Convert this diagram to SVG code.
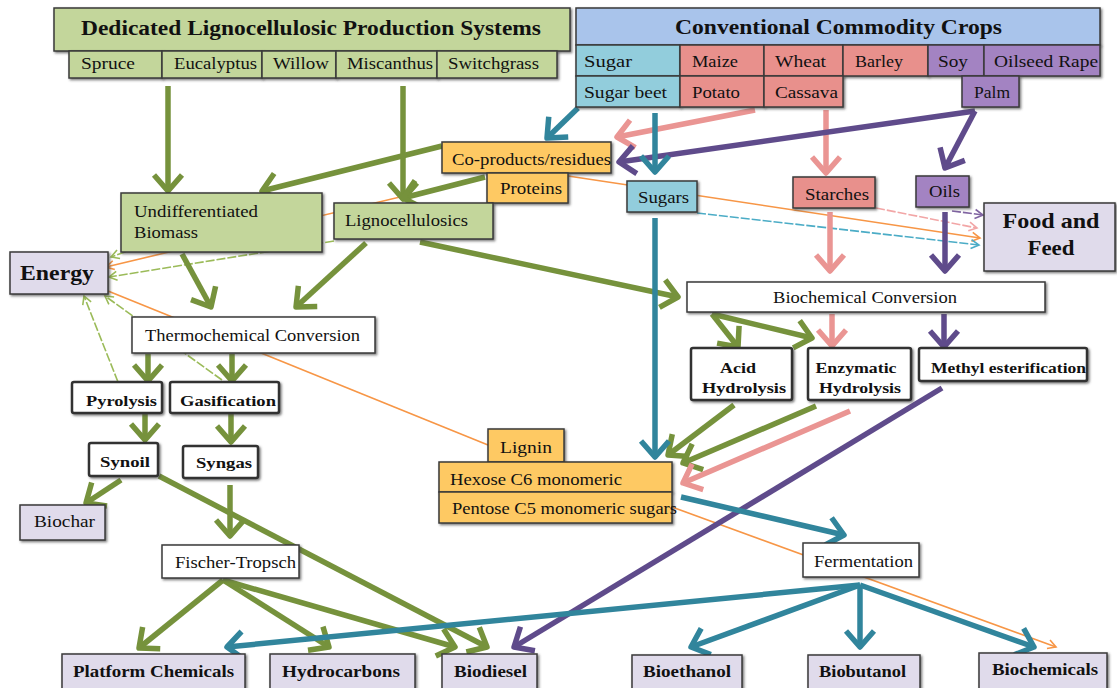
<svg xmlns="http://www.w3.org/2000/svg" width="1117" height="688" viewBox="0 0 1117 688">
<style>
text{font-family:"Liberation Serif","DejaVu Serif",serif;fill:#111}
.r{font-size:16px}
.b{font-weight:bold}
rect.bx,rect.pb{filter:url(#sh)}
.bx{stroke:#3a3a3a;stroke-width:1.5}
.pb{fill:#fff;stroke:#333;stroke-width:2.5}
.wh{fill:#fff}
.gr{fill:#c3d69b}
.bl{fill:#a9c4eb}
.aq{fill:#92cddc}
.sa{fill:#e8908c}
.pu{fill:#a383c2}
.li{fill:#e0dbeb}
.ye{fill:#fec963}
.k{fill:none;stroke-width:5.5;stroke-linecap:butt}
.kg{stroke:#76923c;marker-end:url(#mG)}
.kt{stroke:#31859c;marker-end:url(#mT)}
.kp{stroke:#ea9593;marker-end:url(#mP)}
.kv{stroke:#5f4b8b;marker-end:url(#mV)}
.n{fill:none;stroke-width:1.6}
.no{stroke:#f79646}
.nl{stroke:#9bbb59;stroke-dasharray:9 2}
.nt{stroke:#4bacc6;stroke-dasharray:9 2}
.np{stroke:#f2a6a6;stroke-dasharray:9 2}
.nv{stroke:#8064a2;stroke-dasharray:9 2}
</style>
<defs>
<filter id="sh" x="-10%" y="-10%" width="130%" height="140%"><feDropShadow dx="1.5" dy="1.5" stdDeviation="0.8" flood-color="#444" flood-opacity="0.7"/></filter>
<marker id="mG" viewBox="0 0 34 34" markerWidth="34" markerHeight="34" markerUnits="userSpaceOnUse" refX="25" refY="17" orient="auto"><path d="M9,3 L25,17 L9,31" fill="none" stroke="#76923c" stroke-width="5.5" stroke-linejoin="round"/></marker>
<marker id="mT" viewBox="0 0 34 34" markerWidth="34" markerHeight="34" markerUnits="userSpaceOnUse" refX="25" refY="17" orient="auto"><path d="M9,3 L25,17 L9,31" fill="none" stroke="#31859c" stroke-width="5.5" stroke-linejoin="round"/></marker>
<marker id="mP" viewBox="0 0 34 34" markerWidth="34" markerHeight="34" markerUnits="userSpaceOnUse" refX="25" refY="17" orient="auto"><path d="M9,3 L25,17 L9,31" fill="none" stroke="#ea9593" stroke-width="5.5" stroke-linejoin="round"/></marker>
<marker id="mV" viewBox="0 0 34 34" markerWidth="34" markerHeight="34" markerUnits="userSpaceOnUse" refX="25" refY="17" orient="auto"><path d="M9,3 L25,17 L9,31" fill="none" stroke="#5f4b8b" stroke-width="5.5" stroke-linejoin="round"/></marker>
<marker id="sO" viewBox="0 0 12 12" markerWidth="12" markerHeight="12" markerUnits="userSpaceOnUse" refX="10" refY="6" orient="auto"><path d="M2,1.5 L10,6 L2,10.5" fill="none" stroke="#f79646" stroke-width="1.6"/></marker>
<marker id="sL" viewBox="0 0 12 12" markerWidth="12" markerHeight="12" markerUnits="userSpaceOnUse" refX="10" refY="6" orient="auto"><path d="M2,1.5 L10,6 L2,10.5" fill="none" stroke="#9bbb59" stroke-width="1.6"/></marker>
<marker id="sT" viewBox="0 0 12 12" markerWidth="12" markerHeight="12" markerUnits="userSpaceOnUse" refX="10" refY="6" orient="auto"><path d="M2,1.5 L10,6 L2,10.5" fill="none" stroke="#4bacc6" stroke-width="1.6"/></marker>
<marker id="sP" viewBox="0 0 12 12" markerWidth="12" markerHeight="12" markerUnits="userSpaceOnUse" refX="10" refY="6" orient="auto"><path d="M2,1.5 L10,6 L2,10.5" fill="none" stroke="#f2a6a6" stroke-width="1.6"/></marker>
<marker id="sV" viewBox="0 0 12 12" markerWidth="12" markerHeight="12" markerUnits="userSpaceOnUse" refX="10" refY="6" orient="auto"><path d="M2,1.5 L10,6 L2,10.5" fill="none" stroke="#8064a2" stroke-width="1.6"/></marker>
</defs>
<rect width="1117" height="688" fill="#fff"/>

<g id="connectors">
<path class="n no" d="M484,177 L106,267" marker-end="url(#sO)"/>
<path class="n no" d="M568,176 L980,238" marker-end="url(#sO)"/>
<path class="n no" d="M488,445 L108,291"/>
<path class="n no" d="M672,507 L1056,647" marker-end="url(#sO)"/>
<path class="n nl" d="M136,248 L111,257" marker-end="url(#sL)"/>
<path class="n nl" d="M334,241 L109,277" marker-end="url(#sL)"/>
<path class="n nl" d="M118,382 L84,296" marker-end="url(#sL)"/>
<path class="n nl" d="M222,380 L105,296" marker-end="url(#sL)"/>
<path class="n np" d="M876,208 L977,228" marker-end="url(#sP)"/>
<path class="n nv" d="M952,211 L983,215" marker-end="url(#sV)"/>
<path class="n nt" d="M697,213 L979,245" marker-end="url(#sT)"/>
<path class="k kg" d="M168,86 V191"/>
<path class="k kg" d="M403,86 V199"/>
<path class="k kg" d="M442,146 L262,191"/>
<path class="k kg" d="M485,177 L403,198"/>
<path class="k kg" d="M182,254 L211,307"/>
<path class="k kg" d="M366,243 L296,307"/>
<path class="k kg" d="M420,242 L678,297"/>
<path class="k kg" d="M148,354 V381"/>
<path class="k kg" d="M232,354 V381"/>
<path class="k kg" d="M145,414 V440"/>
<path class="k kg" d="M231,414 V442"/>
<path class="k kg" d="M121,480 L86,503"/>
<path class="k kg" d="M230,485 V536"/>
<path class="k kg" d="M159,476 L487,647"/>
<path class="k kg" d="M223,580 L139,648"/>
<path class="k kg" d="M223,580 L329,647"/>
<path class="k kg" d="M223,580 L455,647"/>
<path class="k kg" d="M712,314 L738,347"/>
<path class="k kg" d="M712,314 L812,338"/>
<path class="k kg" d="M734,405 L668,455"/>
<path class="k kg" d="M816,406 L683,463"/>
<path class="k kp" d="M755,110 L617,137"/>
<path class="k kp" d="M826,110 V173"/>
<path class="k kp" d="M830,212 V271"/>
<path class="k kp" d="M832,314 V346"/>
<path class="k kp" d="M850,411 L683,483"/>
<path class="k kv" d="M975,111 L619,162"/>
<path class="k kv" d="M975,111 L945,168"/>
<path class="k kv" d="M945,212 V271"/>
<path class="k kv" d="M944,314 V347"/>
<path class="k kv" d="M942,388 L514,647"/>
<path class="k kt" d="M578,108 L547,138"/>
<path class="k kt" d="M655,113 V172"/>
<path class="k kt" d="M655,218 V457"/>
<path class="k kt" d="M681,497 L844,535"/>
<path class="k kt" d="M860,585 L691,647"/>
<path class="k kt" d="M860,585 V647"/>
<path class="k kt" d="M860,585 L1034,647"/>
<path class="k kt" d="M860,585 L227,647"/>
</g>

<g id="dedicated">
<rect class="bx gr" x="54" y="8" width="516" height="43"/>
<text class="b" x="81" y="35" font-size="21" textLength="460" lengthAdjust="spacingAndGlyphs">Dedicated Lignocellulosic Production Systems</text>
<rect class="bx gr" x="69" y="51" width="93" height="27"/>
<rect class="bx gr" x="162" y="51" width="100" height="27"/>
<rect class="bx gr" x="262" y="51" width="74" height="27"/>
<rect class="bx gr" x="336" y="51" width="101" height="27"/>
<rect class="bx gr" x="437" y="51" width="120" height="27"/>
<text class="r" x="81" y="69" textLength="54" lengthAdjust="spacingAndGlyphs">Spruce</text>
<text class="r" x="174" y="69" textLength="83" lengthAdjust="spacingAndGlyphs">Eucalyptus</text>
<text class="r" x="273" y="69" textLength="56" lengthAdjust="spacingAndGlyphs">Willow</text>
<text class="r" x="347" y="69" textLength="86" lengthAdjust="spacingAndGlyphs">Miscanthus</text>
<text class="r" x="448" y="69" textLength="91" lengthAdjust="spacingAndGlyphs">Switchgrass</text>
</g>

<g id="conventional">
<rect class="bx bl" x="576" y="8" width="524" height="37"/>
<text class="b" x="675" y="34" font-size="21" textLength="327" lengthAdjust="spacingAndGlyphs">Conventional Commodity Crops</text>
<rect class="bx aq" x="576" y="45" width="104" height="31"/>
<rect class="bx sa" x="680" y="45" width="84" height="31"/>
<rect class="bx sa" x="764" y="45" width="79" height="31"/>
<rect class="bx sa" x="843" y="45" width="85" height="31"/>
<rect class="bx pu" x="928" y="45" width="56" height="31"/>
<rect class="bx pu" x="984" y="45" width="116" height="31"/>
<rect class="bx aq" x="576" y="76" width="104" height="31"/>
<rect class="bx sa" x="680" y="76" width="84" height="31"/>
<rect class="bx sa" x="764" y="76" width="79" height="31"/>
<rect class="bx pu" x="962" y="76" width="57" height="31"/>
<text class="r" x="584" y="67" textLength="48" lengthAdjust="spacingAndGlyphs">Sugar</text>
<text class="r" x="692" y="67" textLength="46" lengthAdjust="spacingAndGlyphs">Maize</text>
<text class="r" x="775" y="67" textLength="51" lengthAdjust="spacingAndGlyphs">Wheat</text>
<text class="r" x="855" y="67" textLength="48" lengthAdjust="spacingAndGlyphs">Barley</text>
<text class="r" x="938" y="67" textLength="30" lengthAdjust="spacingAndGlyphs">Soy</text>
<text class="r" x="994" y="67" textLength="104" lengthAdjust="spacingAndGlyphs">Oilseed Rape</text>
<text class="r" x="584" y="98" textLength="83" lengthAdjust="spacingAndGlyphs">Sugar beet</text>
<text class="r" x="692" y="98" textLength="48" lengthAdjust="spacingAndGlyphs">Potato</text>
<text class="r" x="775" y="98" textLength="63" lengthAdjust="spacingAndGlyphs">Cassava</text>
<text class="r" x="974" y="98" textLength="36" lengthAdjust="spacingAndGlyphs">Palm</text>
</g>

<g id="coproducts">
<rect class="bx ye" x="442" y="142" width="169" height="31"/>
<text class="r" x="452" y="165" textLength="159" lengthAdjust="spacingAndGlyphs">Co-products/residues</text>
</g>
<g id="proteins">
<rect class="bx ye" x="487" y="173" width="81" height="30"/>
<text class="r" x="500" y="194" textLength="62" lengthAdjust="spacingAndGlyphs">Proteins</text>
</g>
<g id="sugars">
<rect class="bx aq" x="627" y="181" width="70" height="31"/>
<text class="r" x="638" y="203" textLength="51" lengthAdjust="spacingAndGlyphs">Sugars</text>
</g>
<g id="starches">
<rect class="bx sa" x="793" y="177" width="82" height="31"/>
<text class="r" x="805" y="200" textLength="64" lengthAdjust="spacingAndGlyphs">Starches</text>
</g>
<g id="oils">
<rect class="bx pu" x="916" y="176" width="53" height="31"/>
<text class="r" x="929" y="197" textLength="31" lengthAdjust="spacingAndGlyphs">Oils</text>
</g>
<g id="food">
<rect class="bx li" x="984" y="203" width="131" height="68"/>
<text class="b" x="1051" y="228" font-size="21" text-anchor="middle" textLength="97" lengthAdjust="spacingAndGlyphs">Food and</text>
<text class="b" x="1051" y="255" font-size="21" text-anchor="middle" textLength="47" lengthAdjust="spacingAndGlyphs">Feed</text>
</g>
<g id="undifferentiated">
<rect class="bx gr" x="121" y="193" width="201" height="59"/>
<text class="r" x="134" y="217" textLength="124" lengthAdjust="spacingAndGlyphs">Undifferentiated</text>
<text class="r" x="134" y="238" textLength="64" lengthAdjust="spacingAndGlyphs">Biomass</text>
</g>
<g id="lignocellulosics">
<rect class="bx gr" x="334" y="203" width="159" height="36"/>
<text class="r" x="345" y="226" textLength="123" lengthAdjust="spacingAndGlyphs">Lignocellulosics</text>
</g>
<g id="energy">
<rect class="bx li" x="10" y="252" width="98" height="42"/>
<text class="b" x="20" y="280" font-size="22" textLength="74" lengthAdjust="spacingAndGlyphs">Energy</text>
</g>
<g id="biochemical">
<rect class="bx wh" x="687" y="282" width="358" height="30"/>
<text class="r" x="773" y="303" textLength="184" lengthAdjust="spacingAndGlyphs">Biochemical Conversion</text>
</g>
<g id="thermochemical">
<rect class="bx wh" x="132" y="317" width="243" height="36"/>
<text class="r" x="145" y="341" textLength="215" lengthAdjust="spacingAndGlyphs">Thermochemical Conversion</text>
</g>
<g id="pyrolysis">
<rect class="pb" x="72" y="382" width="90" height="31" rx="2"/>
<text class="b" x="86" y="406" font-size="15" textLength="71" lengthAdjust="spacingAndGlyphs">Pyrolysis</text>
</g>
<g id="gasification">
<rect class="pb" x="170" y="382" width="109" height="31" rx="2"/>
<text class="b" x="180" y="406" font-size="15" textLength="96" lengthAdjust="spacingAndGlyphs">Gasification</text>
</g>
<g id="synoil">
<rect class="pb" x="89" y="443" width="69" height="33" rx="2"/>
<text class="b" x="100" y="467" font-size="15" textLength="50" lengthAdjust="spacingAndGlyphs">Synoil</text>
</g>
<g id="syngas">
<rect class="pb" x="183" y="446" width="75" height="32" rx="2"/>
<text class="b" x="196" y="468" font-size="15" textLength="56" lengthAdjust="spacingAndGlyphs">Syngas</text>
</g>
<g id="acid">
<rect class="pb" x="691" y="348" width="101" height="52" rx="2"/>
<text class="b" x="738" y="373" font-size="15" text-anchor="middle" textLength="36" lengthAdjust="spacingAndGlyphs">Acid</text>
<text class="b" x="744" y="393" font-size="15" text-anchor="middle" textLength="84" lengthAdjust="spacingAndGlyphs">Hydrolysis</text>
</g>
<g id="enzymatic">
<rect class="pb" x="808" y="348" width="103" height="52" rx="2"/>
<text class="b" x="856" y="373" font-size="15" text-anchor="middle" textLength="81" lengthAdjust="spacingAndGlyphs">Enzymatic</text>
<text class="b" x="860" y="393" font-size="15" text-anchor="middle" textLength="82" lengthAdjust="spacingAndGlyphs">Hydrolysis</text>
</g>
<g id="methyl">
<rect class="pb" x="919" y="348" width="168" height="33" rx="2"/>
<text class="b" x="931" y="373" font-size="15" textLength="155" lengthAdjust="spacingAndGlyphs">Methyl esterification</text>
</g>
<g id="lignin">
<rect class="bx ye" x="488" y="429" width="76" height="33"/>
<text class="r" x="500" y="453" font-size="17" textLength="52" lengthAdjust="spacingAndGlyphs">Lignin</text>
</g>
<g id="hexose">
<rect class="bx ye" x="439" y="462" width="233" height="30"/>
<text class="r" x="450" y="485" textLength="172" lengthAdjust="spacingAndGlyphs">Hexose C6 monomeric</text>
</g>
<g id="pentose">
<rect class="bx ye" x="439" y="492" width="233" height="31"/>
<text class="r" x="452" y="514" textLength="225" lengthAdjust="spacingAndGlyphs">Pentose C5 monomeric sugars</text>
</g>
<g id="biochar">
<rect class="bx li" x="20" y="505" width="85" height="35"/>
<text class="r" x="34" y="527" textLength="61" lengthAdjust="spacingAndGlyphs">Biochar</text>
</g>
<g id="fischer">
<rect class="bx wh" x="162" y="545" width="137" height="33"/>
<text class="r" x="175" y="568" textLength="121" lengthAdjust="spacingAndGlyphs">Fischer-Tropsch</text>
</g>
<g id="fermentation">
<rect class="bx wh" x="803" y="543" width="116" height="34"/>
<text class="r" x="814" y="567" textLength="99" lengthAdjust="spacingAndGlyphs">Fermentation</text>
</g>
<g id="platform">
<rect class="bx li" x="62" y="654" width="183" height="46"/>
<text class="b" x="73" y="677" font-size="17" textLength="161" lengthAdjust="spacingAndGlyphs">Platform Chemicals</text>
</g>
<g id="hydrocarbons">
<rect class="bx li" x="270" y="654" width="145" height="46"/>
<text class="b" x="282" y="677" font-size="17" textLength="118" lengthAdjust="spacingAndGlyphs">Hydrocarbons</text>
</g>
<g id="biodiesel">
<rect class="bx li" x="442" y="654" width="95" height="46"/>
<text class="b" x="454" y="677" font-size="17" textLength="73" lengthAdjust="spacingAndGlyphs">Biodiesel</text>
</g>
<g id="bioethanol">
<rect class="bx li" x="632" y="655" width="110" height="45"/>
<text class="b" x="643" y="677" font-size="17" textLength="88" lengthAdjust="spacingAndGlyphs">Bioethanol</text>
</g>
<g id="biobutanol">
<rect class="bx li" x="808" y="655" width="112" height="45"/>
<text class="b" x="819" y="677" font-size="17" textLength="87" lengthAdjust="spacingAndGlyphs">Biobutanol</text>
</g>
<g id="biochemicals">
<rect class="bx li" x="979" y="653" width="128" height="47"/>
<text class="b" x="992" y="675" font-size="17" textLength="106" lengthAdjust="spacingAndGlyphs">Biochemicals</text>
</g>
</svg>
